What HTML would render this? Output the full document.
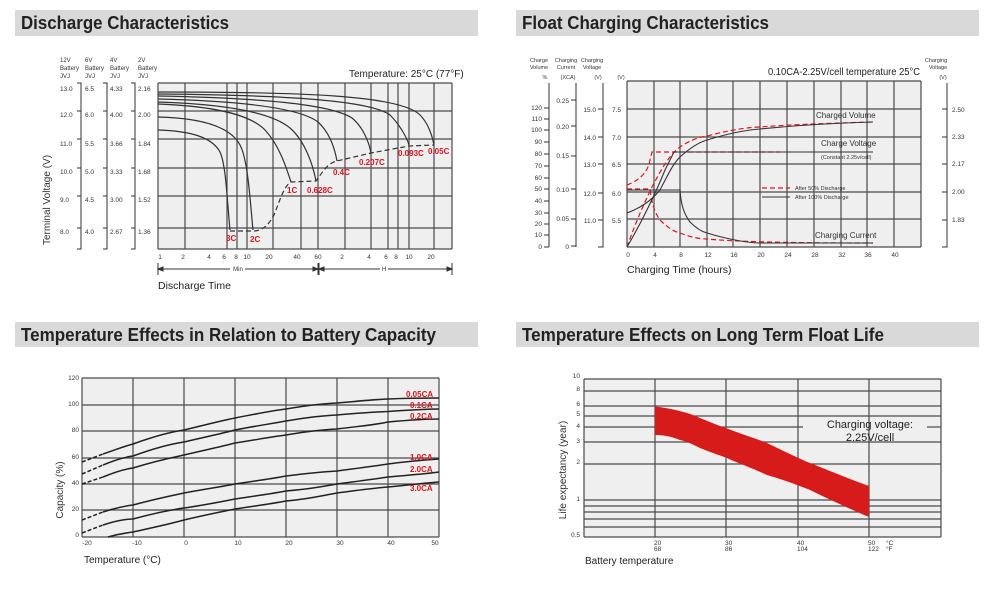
<!DOCTYPE html>
<html><head><meta charset="utf-8"><style>
html,body{margin:0;padding:0;background:#fff;}
svg{display:block;font-family:"Liberation Sans",Arial,sans-serif;}
</style></head><body>
<svg width="1000" height="597" viewBox="0 0 1000 597" xmlns="http://www.w3.org/2000/svg">
<!-- Headers -->
<rect x="15" y="10" width="463" height="26" fill="#d9d9d9"/>
<text x="21" y="29" font-size="18" font-weight="bold" fill="#222" textLength="208" lengthAdjust="spacingAndGlyphs">Discharge Characteristics</text>
<rect x="516" y="10" width="463" height="26" fill="#d9d9d9"/>
<text x="522" y="29" font-size="18" font-weight="bold" fill="#222" textLength="247" lengthAdjust="spacingAndGlyphs">Float Charging Characteristics</text>
<rect x="15" y="322" width="463" height="25" fill="#d9d9d9"/>
<text x="21" y="341" font-size="18" font-weight="bold" fill="#222" textLength="415" lengthAdjust="spacingAndGlyphs">Temperature Effects in Relation to Battery Capacity</text>
<rect x="516" y="322" width="463" height="25" fill="#d9d9d9"/>
<text x="522" y="341" font-size="18" font-weight="bold" fill="#222" textLength="362" lengthAdjust="spacingAndGlyphs">Temperature Effects on Long Term Float Life</text>

<!-- ============ PANEL 1 ============ -->
<rect x="158" y="83" width="294" height="166" fill="#efefef"/>
<g stroke="#4a4a4a" stroke-width="1.2">
<line x1="158" y1="83" x2="452" y2="83"/><line x1="158" y1="111" x2="452" y2="111"/><line x1="158" y1="139" x2="452" y2="139"/><line x1="158" y1="168" x2="452" y2="168"/><line x1="158" y1="196" x2="452" y2="196"/><line x1="158" y1="228" x2="452" y2="228"/><line x1="158" y1="249" x2="452" y2="249"/>
<line x1="158" y1="83" x2="158" y2="249"/><line x1="185" y1="83" x2="185" y2="249"/><line x1="227" y1="83" x2="227" y2="249"/><line x1="237" y1="83" x2="237" y2="249"/><line x1="247" y1="83" x2="247" y2="249"/><line x1="273" y1="83" x2="273" y2="249"/><line x1="301" y1="83" x2="301" y2="249"/><line x1="318" y1="83" x2="318" y2="249"/><line x1="345" y1="83" x2="345" y2="249"/><line x1="371" y1="83" x2="371" y2="249"/><line x1="388" y1="83" x2="388" y2="249"/><line x1="398" y1="83" x2="398" y2="249"/><line x1="409" y1="83" x2="409" y2="249"/><line x1="434" y1="83" x2="434" y2="249"/><line x1="452" y1="83" x2="452" y2="249"/>
</g>
<g fill="none" stroke="#333" stroke-width="1.2">
<path d="M158,92 C300,92 400,95 420,115 C430,125 433,140 434,145"/>
<path d="M158,94 C280,95 370,100 390,115 C400,125 407,138 409,145"/>
<path d="M158,96 C260,98 330,104 352,118 C363,127 369,142 371,153"/>
<path d="M158,99 C240,101 300,108 318,122 C330,133 335,150 337,161"/>
<path d="M158,102 C220,104 270,111 290,128 C305,141 313,165 316,181"/>
<path d="M158,104 C210,106 250,114 265,130 C280,146 287,170 291,182"/>
<path d="M158,117 C200,118 230,126 240,145 C248,160 250,200 253,230"/>
<path d="M158,130 C190,131 212,137 220,152 C226,165 227,200 230,230"/>
<path d="M230,231 L253,231 C262,231 268,226 274,215 C280,200 284,186 291,182 L316,181 C324,170 328,163 337,161 L371,153 L409,146 L434,145" stroke-dasharray="5,3"/>
</g>
<g fill="#e0141e" font-size="8" font-weight="bold">
<text x="226" y="241">3C</text><text x="250" y="242">2C</text><text x="287" y="193">1C</text><text x="307" y="193">0.628C</text><text x="333" y="175">0.4C</text><text x="359" y="165">0.207C</text><text x="398" y="156">0.093C</text><text x="428" y="154">0.05C</text>
</g>
<text x="349" y="77" font-size="10" fill="#222">Temperature: 25°C (77°F)</text>
<g font-size="6" fill="#333">
<text x="60" y="62">12V</text><text x="60" y="70">Battery</text><text x="60" y="78">JVJ</text>
<text x="85" y="62">6V</text><text x="85" y="70">Battery</text><text x="85" y="78">JVJ</text>
<text x="110" y="62">4V</text><text x="110" y="70">Battery</text><text x="110" y="78">JVJ</text>
<text x="138" y="62">2V</text><text x="138" y="70">Battery</text><text x="138" y="78">JVJ</text>
</g>
<g font-size="6.5" fill="#333">
<text x="60" y="91">13.0</text><text x="60" y="117">12.0</text><text x="60" y="146">11.0</text><text x="60" y="174">10.0</text><text x="60" y="202">9.0</text><text x="60" y="234">8.0</text>
<text x="85" y="91">6.5</text><text x="85" y="117">6.0</text><text x="85" y="146">5.5</text><text x="85" y="174">5.0</text><text x="85" y="202">4.5</text><text x="85" y="234">4.0</text>
<text x="110" y="91">4.33</text><text x="110" y="117">4.00</text><text x="110" y="146">3.66</text><text x="110" y="174">3.33</text><text x="110" y="202">3.00</text><text x="110" y="234">2.67</text>
<text x="138" y="91">2.16</text><text x="138" y="117">2.00</text><text x="138" y="146">1.84</text><text x="138" y="174">1.68</text><text x="138" y="202">1.52</text><text x="138" y="234">1.36</text>
</g>
<g stroke="#333" stroke-width="1" fill="none">
<path d="M77,83 H81 V249 H77 M77,111 H81 M77,139 H81 M77,168 H81 M77,196 H81 M77,228 H81"/>
<path d="M103,83 H107 V249 H103 M103,111 H107 M103,139 H107 M103,168 H107 M103,196 H107 M103,228 H107"/>
<path d="M131,83 H135 V249 H131 M131,111 H135 M131,139 H135 M131,168 H135 M131,196 H135 M131,228 H135"/>
</g>
<text transform="translate(50,200) rotate(-90)" text-anchor="middle" font-size="10" fill="#333">Terminal Voltage (V)</text>
<g font-size="6.5" fill="#333" text-anchor="middle">
<text x="160" y="259">1</text><text x="183" y="259">2</text><text x="209" y="259">4</text><text x="224" y="259">6</text><text x="236" y="259">8</text><text x="247" y="259">10</text><text x="269" y="259">20</text><text x="297" y="259">40</text><text x="318" y="259">60</text><text x="342" y="259">2</text><text x="369" y="259">4</text><text x="386" y="259">6</text><text x="396" y="259">8</text><text x="409" y="259">10</text><text x="431" y="259">20</text>
</g>
<g stroke="#333" stroke-width="1" fill="#333">
<line x1="158" y1="269" x2="230" y2="269"/><line x1="245" y1="269" x2="318" y2="269"/>
<line x1="320" y1="269" x2="380" y2="269"/><line x1="388" y1="269" x2="452" y2="269"/>
<line x1="158" y1="263" x2="158" y2="275"/><line x1="318" y1="263" x2="318" y2="275"/><line x1="319" y1="263" x2="319" y2="275"/><line x1="452" y1="263" x2="452" y2="275"/>
<path d="M158,269 l5,-2 v4z M318,269 l-5,-2 v4z M319,269 l5,-2 v4z M452,269 l-5,-2 v4z"/>
</g>
<text x="238" y="271" font-size="6" fill="#333" text-anchor="middle">Min</text>
<text x="384" y="271" font-size="6" fill="#333" text-anchor="middle">H</text>
<text x="158" y="289" font-size="10.5" fill="#222">Discharge Time</text>

<!-- ============ PANEL 2 ============ -->
<rect x="627" y="81" width="294" height="166" fill="#efefef"/>
<g stroke="#4a4a4a" stroke-width="1.2">
<line x1="627" y1="81" x2="921" y2="81"/><line x1="627" y1="109" x2="921" y2="109"/><line x1="627" y1="137" x2="921" y2="137"/><line x1="627" y1="164" x2="921" y2="164"/><line x1="627" y1="192" x2="921" y2="192"/><line x1="627" y1="219" x2="921" y2="219"/><line x1="627" y1="247" x2="921" y2="247"/>
<line x1="627" y1="81" x2="627" y2="247"/><line x1="654" y1="81" x2="654" y2="247"/><line x1="680" y1="81" x2="680" y2="247"/><line x1="707" y1="81" x2="707" y2="247"/><line x1="733" y1="81" x2="733" y2="247"/><line x1="760" y1="81" x2="760" y2="247"/><line x1="787" y1="81" x2="787" y2="247"/><line x1="814" y1="81" x2="814" y2="247"/><line x1="841" y1="81" x2="841" y2="247"/><line x1="867" y1="81" x2="867" y2="247"/><line x1="894" y1="81" x2="894" y2="247"/><line x1="921" y1="81" x2="921" y2="247"/>
</g>
<g fill="none" stroke="#e0141e" stroke-width="1.2" stroke-dasharray="5,3">
<path d="M627,185 C640,180 648,172 650,160 L652,152 L780,152"/>
<path d="M627,247 C633,230 640,212 652,187 C662,168 670,154 680,147 C690,140 700,137 707,136 C730,130 750,127 760,127 C800,124 840,123 873,122"/>
<path d="M627,189 L650,189 C652,205 655,213 660,220 C668,228 675,232 680,233 C690,237 700,239 707,239 C740,242 800,243 873,243"/>
<line x1="762" y1="188" x2="790" y2="188"/>
</g>
<g fill="none" stroke="#333" stroke-width="1.1">
<path d="M627,213 C640,208 650,202 660,190 C668,175 672,165 680,157 C690,148 700,142 707,140 C730,133 745,130 760,129 C800,125 840,123 873,122"/>
<path d="M627,247 C640,225 655,195 665,170 L674,152 L873,152"/>
<path d="M627,190 L680,190 C681,205 684,214 690,222 C697,229 703,232 707,233 C730,240 750,243 760,243 L873,243"/>
<line x1="762" y1="197" x2="790" y2="197"/>
</g>
<g font-size="5.5" fill="#333">
<text x="795" y="190">After  50% Discharge</text><text x="795" y="199">After 100% Discharge</text>
<text x="821" y="159">(Constant 2.25v/cell)</text>
</g>
<g font-size="8" fill="#333">
<text x="816" y="118">Charged Volume</text><text x="821" y="146">Charge Voltage</text><text x="815" y="238">Charging Current</text>
</g>
<text x="768" y="75" font-size="10" fill="#222" textLength="152" lengthAdjust="spacingAndGlyphs">0.10CA-2.25V/cell  temperature 25°C</text>
<text x="627" y="273" font-size="10.5" fill="#222">Charging Time (hours)</text>
<g font-size="6.5" fill="#333" text-anchor="middle">
<text x="628" y="257">0</text><text x="655" y="257">4</text><text x="681" y="257">8</text><text x="708" y="257">12</text><text x="734" y="257">16</text><text x="761" y="257">20</text><text x="788" y="257">24</text><text x="815" y="257">28</text><text x="842" y="257">32</text><text x="868" y="257">36</text><text x="895" y="257">40</text>
</g>
<g font-size="5.5" fill="#333" text-anchor="middle">
<text x="539" y="62">Charge</text><text x="539" y="69">Volume</text><text x="545" y="79">%</text>
<text x="566" y="62">Charging</text><text x="566" y="69">Current</text><text x="568" y="79">(XCA)</text>
<text x="592" y="62">Charging</text><text x="592" y="69">Voltage</text><text x="598" y="79">(V)</text>
<text x="621" y="79">(V)</text>
<text x="936" y="62">Charging</text><text x="938" y="69">Voltage</text><text x="943" y="79">(V)</text>
</g>
<g stroke="#333" stroke-width="1" fill="none">
<path d="M549,83 V247 M544,108 H549 M544,119 H549 M544,130 H549 M544,142 H549 M544,154 H549 M544,166 H549 M544,178 H549 M544,189 H549 M544,201 H549 M544,213 H549 M544,224 H549 M544,235 H549 M544,247 H549"/>
<path d="M576,83 V247 M571,100 H576 M571,126 H576 M571,156 H576 M571,189 H576 M571,219 H576 M571,246 H576 H576"/>
<path d="M603,83 V247 H598 M598,109 H603 M598,137 H603 M598,164 H603 M598,193 H603 M598,220 H603"/>
<path d="M947,83 V247 H942 M942,109 H947 M942,137 H947 M942,164 H947 M942,192 H947 M942,220 H947"/>
</g>
<g font-size="6.5" fill="#333" text-anchor="end">
<text x="542" y="110">120</text><text x="542" y="121">110</text><text x="542" y="132">100</text><text x="542" y="144">90</text><text x="542" y="156">80</text><text x="542" y="168">70</text><text x="542" y="180">60</text><text x="542" y="191">50</text><text x="542" y="203">40</text><text x="542" y="215">30</text><text x="542" y="226">20</text><text x="542" y="237">10</text><text x="542" y="249">0</text>
<text x="569" y="103">0.25</text><text x="569" y="129">0.20</text><text x="569" y="158">0.15</text><text x="569" y="192">0.10</text><text x="569" y="221">0.05</text><text x="569" y="249">0</text>
<text x="596" y="112">15.0</text><text x="596" y="140">14.0</text><text x="596" y="167">13.0</text><text x="596" y="196">12.0</text><text x="596" y="223">11.0</text>
<text x="621" y="112">7.5</text><text x="621" y="140">7.0</text><text x="621" y="167">6.5</text><text x="621" y="196">6.0</text><text x="621" y="223">5.5</text>
</g>
<g font-size="6.5" fill="#333">
<text x="952" y="112">2.50</text><text x="952" y="139">2.33</text><text x="952" y="166">2.17</text><text x="952" y="194">2.00</text><text x="952" y="222">1.83</text>
</g>

<!-- ============ PANEL 3 ============ -->
<rect x="82" y="378" width="357" height="159" fill="#efefef"/>
<g stroke="#4a4a4a" stroke-width="1.2">
<line x1="82" y1="378" x2="439" y2="378"/><line x1="82" y1="405" x2="439" y2="405"/><line x1="82" y1="431" x2="439" y2="431"/><line x1="82" y1="458" x2="439" y2="458"/><line x1="82" y1="484" x2="439" y2="484"/><line x1="82" y1="510" x2="439" y2="510"/><line x1="82" y1="537" x2="439" y2="537"/>
<line x1="82" y1="378" x2="82" y2="537"/><line x1="133" y1="378" x2="133" y2="537"/><line x1="184" y1="378" x2="184" y2="537"/><line x1="235" y1="378" x2="235" y2="537"/><line x1="286" y1="378" x2="286" y2="537"/><line x1="337" y1="378" x2="337" y2="537"/><line x1="388" y1="378" x2="388" y2="537"/><line x1="439" y1="378" x2="439" y2="537"/>
</g>
<g fill="none" stroke="#222" stroke-width="1.5">
<path d="M103,454 C115,450 125,446 133,444 C155,436 170,432 184,430 C205,425 220,421 235,418 C255,414 270,411 286,409 C310,405 320,404 337,403 C360,401 375,399.5 388,399 C410,398 425,398 439,398"/>
<path d="M103,465 C115,460 125,457 133,456 C155,448 170,444 184,442 C205,437 220,434 235,430 C255,426 270,424 286,421 C310,417 320,416 337,415 C360,413 375,412 388,411.5 C410,410 425,409 439,409"/>
<path d="M103,477 C115,472 125,469 133,468 C155,461 170,458 184,455 C205,450 220,447 235,443 C255,440 270,437 286,435 C310,431 320,430 337,429 C360,426 375,425 388,422 C410,420 425,419 439,419"/>
<path d="M103,512 C115,508 125,506 133,505 C155,499 170,496 184,493 C205,489 220,487 235,484 C255,481 270,479 286,476 C310,473 320,472 337,471 C360,468 375,466 388,464 C410,461 425,460 439,459"/>
<path d="M103,525 C115,521 125,519 133,519 C155,513 170,510 184,508 C205,505 220,502 235,499 C255,496 270,494 286,491 C310,489 320,487 337,484 C360,481 375,479 388,477 C410,475 425,474 439,472"/>
<path d="M108,537 C115,535 125,533 133,532 C155,527 170,524 184,520 C205,515 220,512 235,509 C255,506 270,504 286,501 C310,499 320,496 337,493 C360,490 375,488 388,487 C410,485 425,483 439,482"/>
</g>
<g fill="none" stroke="#222" stroke-width="1.5" stroke-dasharray="4,2">
<path d="M82,462 L103,454"/><path d="M82,474 L103,465"/><path d="M82,484 L103,477"/><path d="M82,520 L103,512"/><path d="M82,533 L103,525"/>
</g>
<g fill="#e0141e" font-size="8" font-weight="bold">
<text x="406" y="397">0.05CA</text><text x="410" y="408">0.1CA</text><text x="410" y="419">0.2CA</text><text x="410" y="460">1.0CA</text><text x="410" y="472">2.0CA</text><text x="410" y="491">3.0CA</text>
</g>
<g font-size="6.5" fill="#333" text-anchor="end">
<text x="79" y="380">120</text><text x="79" y="406">100</text><text x="79" y="432">80</text><text x="79" y="459">60</text><text x="79" y="485">40</text><text x="79" y="511">20</text><text x="79" y="537">0</text>
</g>
<g font-size="6.5" fill="#333" text-anchor="middle">
<text x="87" y="545">-20</text><text x="137" y="545">-10</text><text x="186" y="545">0</text><text x="238" y="545">10</text><text x="289" y="545">20</text><text x="340" y="545">30</text><text x="391" y="545">40</text><text x="435" y="545">50</text>
</g>
<text x="84" y="563" font-size="10" fill="#222">Temperature (°C)</text>
<text transform="translate(63,490) rotate(-90)" text-anchor="middle" font-size="10" fill="#333">Capacity (%)</text>

<!-- ============ PANEL 4 ============ -->
<rect x="584" y="379" width="357" height="158" fill="#efefef"/>
<g stroke="#4a4a4a" stroke-width="1.2">
<line x1="584" y1="379" x2="941" y2="379"/><line x1="584" y1="391" x2="941" y2="391"/><line x1="584" y1="406" x2="941" y2="406"/><line x1="584" y1="416" x2="941" y2="416"/><line x1="584" y1="427" x2="803" y2="427"/><line x1="927" y1="427" x2="941" y2="427"/><line x1="584" y1="442" x2="941" y2="442"/><line x1="584" y1="464" x2="941" y2="464"/><line x1="584" y1="500" x2="941" y2="500"/><line x1="584" y1="506" x2="941" y2="506"/><line x1="584" y1="512" x2="941" y2="512"/><line x1="584" y1="519" x2="941" y2="519"/><line x1="584" y1="527" x2="941" y2="527"/><line x1="584" y1="537" x2="941" y2="537"/>
<line x1="584" y1="379" x2="584" y2="537"/><line x1="655" y1="379" x2="655" y2="537"/><line x1="726" y1="379" x2="726" y2="537"/><line x1="798" y1="379" x2="798" y2="537"/><line x1="869" y1="379" x2="869" y2="537"/><line x1="941" y1="379" x2="941" y2="537"/>
</g>
<path d="M655,406.5 C670,408 690,413 700,418 C715,424 722,427 727,428.5 C750,437 760,440 767,443 C790,454 800,459 810,463 C840,475 855,481 869,486 L869,517 C850,509 835,502 810,490 C790,482 780,479 767,475 C745,465 735,462 727,458 C710,452 705,450 700,448 C690,443 685,441 680,440 C670,436 662,435 655,435 Z" fill="#d71a1a"/>
<text x="870" y="428" font-size="11" fill="#222" text-anchor="middle">Charging voltage:</text>
<text x="870" y="441" font-size="11" fill="#222" text-anchor="middle">2.25V/cell</text>
<g font-size="6.5" fill="#333" text-anchor="end">
<text x="580" y="378">10</text><text x="580" y="391">8</text><text x="580" y="406">6</text><text x="580" y="416">5</text><text x="580" y="428">4</text><text x="580" y="443">3</text><text x="580" y="464">2</text><text x="580" y="501">1</text><text x="580" y="537">0.5</text>
</g>
<g font-size="6.5" fill="#333">
<text x="654" y="545">20</text><text x="654" y="551">68</text>
<text x="725" y="545">30</text><text x="725" y="551">86</text>
<text x="797" y="545">40</text><text x="797" y="551">104</text>
<text x="868" y="545">50</text><text x="868" y="551">122</text>
<text x="886" y="545">°C</text><text x="886" y="551">°F</text>
</g>
<text x="585" y="564" font-size="10" fill="#222">Battery temperature</text>
<text transform="translate(566,470) rotate(-90)" text-anchor="middle" font-size="10" fill="#333">Life expectancy (year)</text>
</svg>
</body></html>
